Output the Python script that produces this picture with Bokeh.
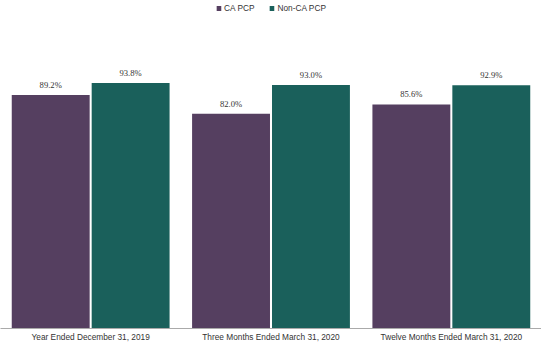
from bokeh.plotting import figure
from bokeh.models import ColumnDataSource, FactorRange, Range1d, Legend, LegendItem, LabelSet
from bokeh.transform import dodge
from bokeh.embed import file_html
from bokeh.resources import INLINE

categories = ["Year Ended December 31, 2019", "Three Months Ended March 31, 2020", "Twelve Months Ended March 31, 2020"]
ca_pcp = [89.2, 82.0, 85.6]
non_ca_pcp = [93.8, 93.0, 92.9]
series_names = ["CA PCP", "Non-CA PCP"]
colors = ["#553F60", "#1A605B"]

src = ColumnDataSource(dict(
    cat=categories,
    ca=ca_pcp,
    non=non_ca_pcp,
    ca_lbl=[f"{v:.1f}%" for v in ca_pcp],
    non_lbl=[f"{v:.1f}%" for v in non_ca_pcp],
))

p = figure(width=541, height=344, x_range=FactorRange(*categories, range_padding=0),
           y_range=Range1d(0, 125.3), output_backend="svg", toolbar_location=None,
           min_border_left=0, min_border_right=0, min_border_top=0, min_border_bottom=0)

off = 0.2216
w = 0.432
r1 = p.vbar(x=dodge("cat", -off, range=p.x_range), top="ca", width=w, source=src,
            fill_color=colors[0], line_color=None)
r2 = p.vbar(x=dodge("cat", off, range=p.x_range), top="non", width=w, source=src,
            fill_color=colors[1], line_color=None)

for col, lbl, o in [("ca", "ca_lbl", -off), ("non", "non_lbl", off)]:
    ls = LabelSet(x=dodge("cat", o, range=p.x_range), y=col, text=lbl, source=src,
                  text_align="center", text_baseline="bottom", y_offset=5,
                  text_font="Liberation Sans", text_font_size="8.6px", text_color="#333333")
    p.add_layout(ls)

legend = Legend(items=[LegendItem(label=series_names[0], renderers=[r1]),
                       LegendItem(label=series_names[1], renderers=[r2])],
                location="top_center", orientation="horizontal",
                glyph_width=6, glyph_height=6, label_standoff=3, spacing=14,
                label_text_font="Liberation Sans", label_text_font_size="8.3px",
                label_text_color="#333333", border_line_color=None,
                background_fill_alpha=0, margin=3, padding=2, label_height=8)
p.add_layout(legend)

p.yaxis.visible = False
p.xgrid.grid_line_color = None
p.ygrid.grid_line_color = None
p.outline_line_color = None
p.xaxis.axis_line_color = "#AAAAAA"
p.xaxis.major_tick_line_color = None
p.xaxis.minor_tick_line_color = None
p.xaxis.major_tick_out = 0
p.xaxis.major_tick_in = 0
p.xaxis.major_label_standoff = 3
p.xaxis.major_label_text_font = "Liberation Sans"
p.xaxis.major_label_text_font_size = "8.3px"
p.xaxis.major_label_text_color = "#333333"

open("out.html", "w").write(file_html(p, INLINE))
